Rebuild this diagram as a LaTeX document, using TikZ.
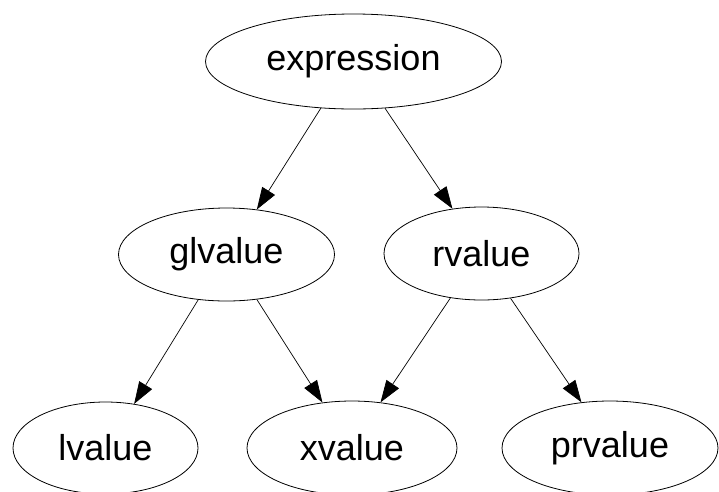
\documentclass[tikz,border=0pt]{standalone}
\usepackage{fontspec}
\setmainfont{Liberation Sans}
\usetikzlibrary{shapes.geometric,arrows.meta}
\tikzset{
	category/.style={draw, ellipse, line width=0.8pt, inner sep=0pt, font=\fontsize{36}{43}\selectfont},
	derive/.style={-{Triangle[length=22pt,width=15pt]}, line width=0.7pt}
}

\begin{document}
\begin{tikzpicture}[x=1pt, y=-1pt]
		%%%%% START %%%%%
		
		\useasboundingbox (0, 0) rectangle (719, 491);
		
		\node[category, minimum width=296pt, minimum height=95pt] (expression) at (353.5, 61.5) {expression};
		
		\node[category, minimum width=216pt, minimum height=93pt] (glvalue) at (226.5, 254.5) {glvalue};
		\node[category, minimum width=195pt, minimum height=93pt] (rvalue) at (481.5, 253.5) {rvalue};
		
		\node[category, minimum width=185pt, minimum height=92pt] (lvalue) at (105.5, 448) {lvalue};
		\node[category, minimum width=210pt, minimum height=94pt] (xvalue) at (352, 448) {xvalue};
		\node[category, minimum width=216pt, minimum height=94pt] (prvalue) at (610, 448) {prvalue};
		
		\draw[derive] (expression.235) -- (glvalue.56);
		\draw[derive] (expression.304) -- (rvalue.123);
		
		\draw[derive] (glvalue.238) -- (lvalue.57);
		\draw[derive] (glvalue.304) -- (xvalue.123);
		
		\draw[derive] (rvalue.235) -- (xvalue.58);
		\draw[derive] (rvalue.303) -- (prvalue.122);
		
		%%%%% END %%%%%
\end{tikzpicture}
\end{document}
